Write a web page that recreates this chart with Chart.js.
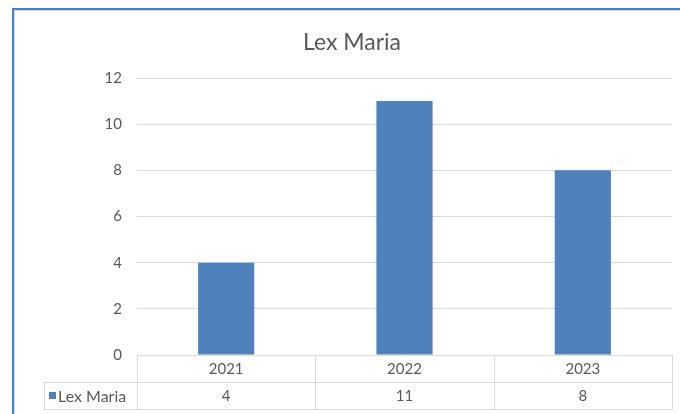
<!DOCTYPE html>
<html>
<head>
<meta charset="utf-8">
<title>Lex Maria</title>
<script src="https://cdn.jsdelivr.net/npm/chart.js@4/dist/chart.umd.min.js"></script>
<style>
  html, body { margin: 0; padding: 0; background: #fff; }
  #wrap { width: 680px; height: 414px; position: relative; }
</style>
</head>
<body>
<div id="wrap"><canvas id="lexChart" width="680" height="414"></canvas></div>
<script>
const seriesName = "Lex Maria";
const years = ["2021", "2022", "2023"];
const counts = [4, 11, 8];
const yTicks = [0, 2, 4, 6, 8, 10, 12];

const barBlue = "#4F81BD";
const gridGrey = "#D9D9D9";
const textGrey = "#595959";
const fontFamily = "Lato, 'Liberation Sans', sans-serif";

// frame line on top and left, plus the chart title
const framePlugin = {
    id: "frame",
    beforeDraw(chart) {
        const c = chart.ctx;
        c.save();
        c.fillStyle = "#fff";
        c.fillRect(0, 0, chart.width, chart.height);
        c.strokeStyle = "#4A7EC8";
        c.lineWidth = 2;
        c.beginPath();
        c.moveTo(13, chart.height);
        c.lineTo(13, 9);
        c.lineTo(chart.width, 9);
        c.stroke();
        c.strokeStyle = "#C9DAF0";
        c.lineWidth = 1;
        c.beginPath();
        c.moveTo(14.5, chart.height);
        c.lineTo(14.5, 10.5);
        c.lineTo(chart.width, 10.5);
        c.stroke();

        c.fillStyle = textGrey;
        c.font = "23px " + fontFamily;
        c.textAlign = "center";
        c.textBaseline = "middle";
        c.fillText(seriesName, 352, 43);
        c.restore();
    }
};

// data table under the plot: year row, then series row with legend key
const dataTablePlugin = {
    id: "dataTable",
    afterDraw(chart) {
        const c = chart.ctx;
        const area = chart.chartArea;
        const xs = chart.scales.x;
        const rowH = 27;
        const top = area.bottom;
        const mid = top + rowH;
        const bottom = mid + rowH;
        const tableLeft = 44;
        const step = (area.right - area.left) / years.length;

        c.save();
        c.strokeStyle = gridGrey;
        c.lineWidth = 1;
        c.beginPath();
        c.moveTo(area.left, top + 0.5); c.lineTo(area.right, top + 0.5);
        c.moveTo(tableLeft, mid + 0.5); c.lineTo(area.right, mid + 0.5);
        c.moveTo(tableLeft, bottom + 0.5); c.lineTo(area.right, bottom + 0.5);
        c.moveTo(tableLeft + 0.5, mid); c.lineTo(tableLeft + 0.5, bottom);
        for (let i = 0; i <= years.length; i++) {
            const x = Math.round(area.left + i * step) + 0.5;
            c.moveTo(x, top); c.lineTo(x, bottom);
        }
        c.stroke();

        c.fillStyle = textGrey;
        c.font = "15px " + fontFamily;
        c.textAlign = "center";
        c.textBaseline = "middle";
        years.forEach((y, i) => {
            const x = xs.getPixelForValue(i);
            c.fillText(y, x, top + rowH / 2 + 1);
            c.fillText(String(counts[i]), x, mid + rowH / 2 + 1);
        });

        c.fillStyle = barBlue;
        c.fillRect(49, mid + 10, 7, 7);
        c.fillStyle = textGrey;
        c.textAlign = "left";
        c.font = "16px " + fontFamily;
        c.fillText(seriesName, 58, mid + rowH / 2 + 1);
        c.restore();
    }
};

const ctx = document.getElementById("lexChart");
const theChart = new Chart(ctx, {
    type: "bar",
    data: {
        labels: years,
        datasets: [{
            label: seriesName,
            data: counts,
            backgroundColor: barBlue,
            borderColor: barBlue,
            borderWidth: 0,
            categoryPercentage: 1,
            barPercentage: 0.315
        }]
    },
    options: {
        responsive: false,
        animation: false,
        layout: { padding: { left: 0, right: 8, top: 78, bottom: 59 } },
        plugins: {
            legend: { display: false },
            tooltip: { enabled: false },
            title: { display: false }
        },
        scales: {
            x: { display: false },
            y: {
                min: 0,
                max: 12,
                afterBuildTicks(scale) {
                    scale.ticks = yTicks.map(v => ({ value: v }));
                },
                afterFit(scale) { scale.width = 137; },
                border: { display: false },
                grid: { color: gridGrey, drawTicks: false },
                ticks: {
                    color: textGrey,
                    padding: 15,
                    font: { family: fontFamily, size: 15 }
                }
            }
        }
    },
    plugins: [framePlugin, dataTablePlugin]
});
</script>
</body>
</html>
